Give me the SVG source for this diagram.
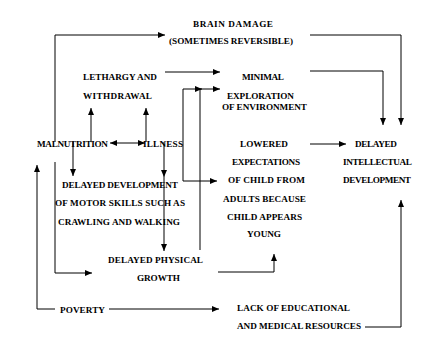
<svg xmlns="http://www.w3.org/2000/svg" width="436" height="337" viewBox="0 0 436 337">
<style>
text{font-family:"Liberation Serif","Times New Roman",serif;font-weight:bold;font-size:9.2px;fill:#000}
.c path{fill:none;stroke:#000;stroke-width:1}
</style>
<defs>
<marker id="ah" markerUnits="userSpaceOnUse" markerWidth="8" markerHeight="7" refX="7" refY="3" orient="auto"><path d="M0,0 L7,3 L0,6 z" fill="#000"/></marker>
<marker id="as" markerUnits="userSpaceOnUse" markerWidth="8" markerHeight="7" refX="7" refY="3" orient="auto-start-reverse"><path d="M0,0 L7,3 L0,6 z" fill="#000"/></marker>
</defs>
<rect width="436" height="337" fill="#fff"/>
<g id="brain"><text x="193" y="27" textLength="80">BRAIN DAMAGE</text><text x="169" y="44" textLength="124">(SOMETIMES REVERSIBLE)</text></g>
<g id="lethargy"><text x="83" y="80" textLength="74">LETHARGY AND</text><text x="83" y="99" textLength="69">WITHDRAWAL</text></g>
<g id="minimal"><text x="242" y="80" textLength="42">MINIMAL</text><text x="227" y="99" textLength="67">EXPLORATION</text><text x="222" y="110" textLength="85">OF ENVIRONMENT</text></g>
<g id="malnutrition"><text x="37" y="147" textLength="71">MALNUTRITION</text></g>
<g id="illness"><text x="143" y="147" textLength="40">ILLNESS</text></g>
<g id="lowered"><text x="240" y="147" textLength="48">LOWERED</text><text x="232" y="165" textLength="68">EXPECTATIONS</text><text x="228" y="183" textLength="77">OF CHILD FROM</text><text x="223" y="202" textLength="83">ADULTS BECAUSE</text><text x="227" y="220" textLength="75">CHILD APPEARS</text><text x="247" y="237" textLength="34">YOUNG</text></g>
<g id="intellectual"><text x="355" y="147" textLength="42">DELAYED</text><text x="343" y="165" textLength="69">INTELLECTUAL</text><text x="343" y="183" textLength="68">DEVELOPMENT</text></g>
<g id="motor"><text x="62" y="188" textLength="116">DELAYED DEVELOPMENT</text><text x="55" y="206" textLength="130">OF MOTOR SKILLS SUCH AS</text><text x="58" y="225" textLength="122">CRAWLING AND WALKING</text></g>
<g id="physical"><text x="108" y="263" textLength="95">DELAYED PHYSICAL</text><text x="137" y="281" textLength="43">GROWTH</text></g>
<g id="poverty"><text x="60" y="313" textLength="45">POVERTY</text></g>
<g id="resources"><text x="237" y="311" textLength="113">LACK OF EDUCATIONAL</text><text x="237" y="329" textLength="124">AND MEDICAL RESOURCES</text></g>
<g class="c" id="connectors">
<path d="M55,142 V35 H165" marker-end="url(#ah)"/>
<path d="M310,35 H401 V125" marker-end="url(#ah)"/>
<path d="M165,72 H220" marker-end="url(#ah)"/>
<path d="M310,71 H383 V125" marker-end="url(#ah)"/>
<path d="M183,135 V89 H202" marker-end="url(#ah)"/>
<path d="M183,135 V181 H217" marker-end="url(#ah)"/>
<path d="M200,250 V89 H220" marker-end="url(#ah)"/>
<path d="M91,142 V108" marker-end="url(#ah)"/>
<path d="M146,142 V108" marker-end="url(#ah)"/>
<path d="M110,143 H145" marker-start="url(#as)" marker-end="url(#ah)"/>
<path d="M73,142 V176" marker-end="url(#ah)"/>
<path d="M164,142 V177" marker-end="url(#ah)"/>
<path d="M164,177 V251" marker-end="url(#ah)"/>
<path d="M55,162 V273 H92" marker-end="url(#ah)"/>
<path d="M55,309 H37 V165" marker-end="url(#ah)"/>
<path d="M109,309 H219" marker-end="url(#ah)"/>
<path d="M218,272 H274 V254" marker-end="url(#ah)"/>
<path d="M310,144 H346" marker-end="url(#ah)"/>
<path d="M365,327 H401 V200" marker-end="url(#ah)"/>
</g>
</svg>
